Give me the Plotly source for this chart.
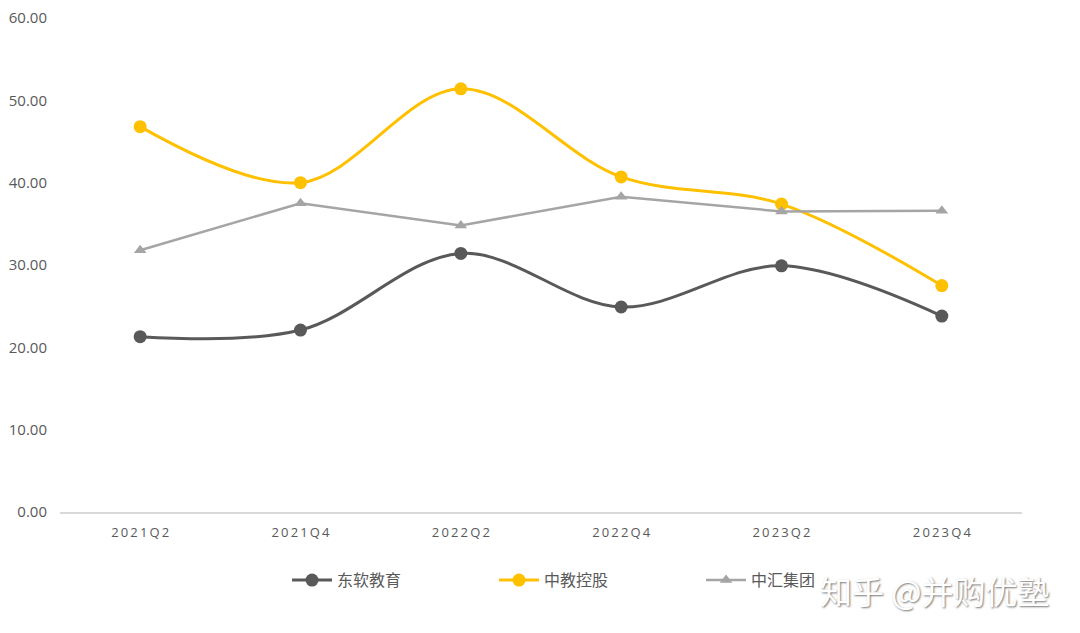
#!/usr/bin/env python3
"""
Education companies: quarterly metric comparison (line chart).
"""
import plotly.graph_objs as go

# Data
QUARTERS = ['2021Q2', '2021Q4', '2022Q2', '2022Q4', '2023Q2', '2023Q4']
NEUSOFT_EDU = [21.3, 22.1, 31.4, 24.9, 29.9, 23.8]
CHINA_EDU = [46.8, 40.0, 51.4, 40.7, 37.4, 27.5]
CHINA_HUI = [31.8, 37.5, 34.8, 38.3, 36.5, 36.6]
Y_TICKS = [0, 10, 20, 30, 40, 50, 60]

FONT = 'Noto Sans CJK SC'
TEXT_COLOR = '#595959'


def spaced(label):
    """Loosen tick label letter spacing with thin spaces."""
    return '\u2009'.join(label)


def build_figure():
    fig = go.Figure()
    fig.add_trace(go.Scatter(
        x=QUARTERS, y=NEUSOFT_EDU, name='东软教育',
        mode='lines+markers',
        line=dict(color='#595959', width=3, shape='spline', smoothing=1.0),
        marker=dict(symbol='circle', size=13, color='#595959')
    ))
    fig.add_trace(go.Scatter(
        x=QUARTERS, y=CHINA_EDU, name='中教控股',
        mode='lines+markers',
        line=dict(color='#FFC000', width=3, shape='spline', smoothing=1.0),
        marker=dict(symbol='circle', size=13, color='#FFC000')
    ))
    fig.add_trace(go.Scatter(
        x=QUARTERS, y=CHINA_HUI, name='中汇集团',
        mode='lines+markers',
        line=dict(color='#A5A5A5', width=2.5),
        marker=dict(symbol='triangle-up', size=11, color='#A5A5A5')
    ))

    # page body has an 8px margin, so margins are offset to compensate
    fig.update_layout(
        width=1080, height=633,
        margin=dict(l=52, r=66, t=10, b=129),
        paper_bgcolor='white', plot_bgcolor='white',
        font=dict(family=FONT, color=TEXT_COLOR),
        xaxis=dict(
            type='category', range=[-0.5, 5.5], automargin=False,
            tickmode='array', tickvals=QUARTERS,
            ticktext=[spaced(q) for q in QUARTERS],
            showgrid=False, zeroline=False,
            showline=True, linecolor='#D9D9D9', linewidth=1.5,
            ticks='', ticklabelstandoff=8,
            tickfont=dict(size=13, color=TEXT_COLOR, family='Open Sans')
        ),
        yaxis=dict(
            range=[0, 60], tickvals=Y_TICKS, tickformat='.2f', automargin=False,
            showgrid=False, zeroline=False, showline=False,
            ticks='', ticklabelstandoff=12, ticklabeloverflow='allow',
            tickfont=dict(size=15, color=TEXT_COLOR, family='Open Sans')
        ),
        legend=dict(
            orientation='h', x=0.236, xanchor='left',
            y=-0.138, yanchor='middle',
            entrywidth=152, entrywidthmode='pixels',
            font=dict(size=16, color=TEXT_COLOR, family=FONT),
            itemwidth=40
        ),
        annotations=[dict(
            text='知乎 @并购优塾', xref='paper', yref='paper',
            x=1.03, y=-0.158, xanchor='right', yanchor='middle',
            showarrow=False,
            font=dict(size=32, color='#FFFFFF', family=FONT,
                      shadow='1px 1px 2px #777')
        )]
    )
    return fig


def main():
    fig = build_figure()
    fig.write_html('out.html')


if __name__ == '__main__':
    main()
